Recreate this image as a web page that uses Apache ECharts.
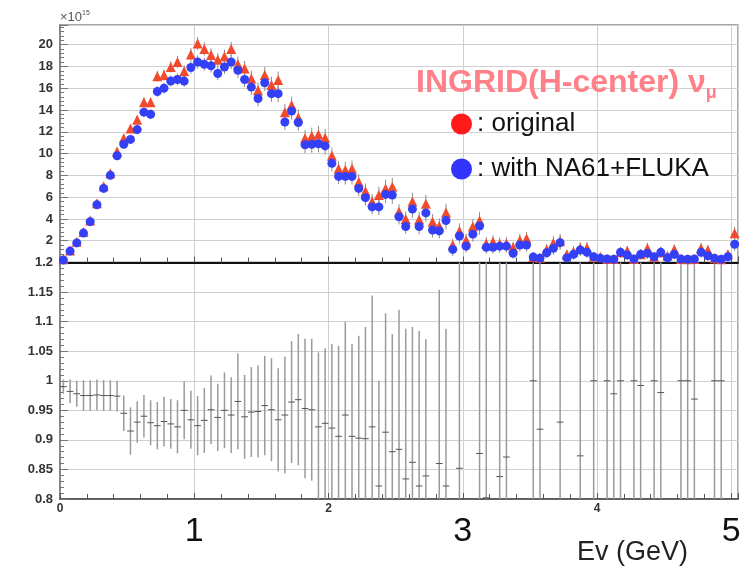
<!DOCTYPE html>
<html>
<head>
<meta charset="utf-8">
<title>INGRID (H-center) numu flux</title>
<script src="https://cdn.jsdelivr.net/npm/echarts@6/dist/echarts.min.js"></script>
<style>
  html, body { margin: 0; padding: 0; background: #ffffff; }
  #chart { width: 749px; height: 574px; }
</style>
</head>
<body>
<div id="chart"></div>
<script>
// Neutrino energy bin centres (GeV), 0.05 GeV wide bins
const energyGeV = [
  0.025, 0.075, 0.125, 0.175, 0.225, 0.275, 0.325, 0.375, 0.425, 0.475,
  0.525, 0.575, 0.625, 0.675, 0.725, 0.775, 0.825, 0.875, 0.925, 0.975,
  1.025, 1.075, 1.125, 1.175, 1.225, 1.275, 1.325, 1.375, 1.425, 1.475,
  1.525, 1.575, 1.625, 1.675, 1.725, 1.775, 1.825, 1.875, 1.925, 1.975,
  2.025, 2.075, 2.125, 2.175, 2.225, 2.275, 2.325, 2.375, 2.425, 2.475,
  2.525, 2.575, 2.625, 2.675, 2.725, 2.775, 2.825, 2.875, 2.925, 2.975,
  3.025, 3.075, 3.125, 3.175, 3.225, 3.275, 3.325, 3.375, 3.425, 3.475,
  3.525, 3.575, 3.625, 3.675, 3.725, 3.775, 3.825, 3.875, 3.925, 3.975,
  4.025, 4.075, 4.125, 4.175, 4.225, 4.275, 4.325, 4.375, 4.425, 4.475,
  4.525, 4.575, 4.625, 4.675, 4.725, 4.775, 4.825, 4.875, 4.925, 4.975,
  5.025
];
const binWidth = 0.05;

// Flux, original tuning (x10^15)
const fluxOriginal = [
  0.30, 1.10, 1.90, 2.80, 3.85, 5.45, 7.00, 8.20, 10.2, 11.4,
  12.3, 13.1, 14.7, 14.7, 17.1, 17.2, 17.95, 18.4, 17.55, 19.1,
  20.1, 19.6, 19.05, 18.6, 18.9, 19.6, 18.2, 17.8, 16.9, 15.8,
  17.2, 16.3, 16.75, 13.8, 14.45, 13.3, 11.4, 11.6, 11.75, 11.45,
  9.80, 8.60, 8.50, 8.60, 7.40, 6.55, 5.60, 6.20, 6.80, 6.95,
  4.65, 4.00, 5.60, 3.95, 5.40, 3.75, 3.35, 4.60, 1.60, 2.90,
  2.05, 3.30, 3.85, 1.75, 1.90, 1.70, 1.75, 1.40, 2.05, 2.20,
  0.50, 0.44, 1.20, 1.80, 1.96, 0.75, 0.98, 1.32, 1.36, 0.53,
  0.53, 0.32, 0.31, 0.93, 1.07, 0.32, 0.76, 1.30, 0.53, 0.95,
  0.62, 1.20, 0.32, 0.30, 0.33, 1.30, 1.15, 0.38, 0.30, 0.75,
  2.68
];

// Flux, with NA61+FLUKA tuning (x10^15)
const fluxNA61 = [
  0.23, 1.05, 1.80, 2.70, 3.75, 5.30, 6.80, 8.00, 9.80, 10.85,
  11.3, 12.2, 13.8, 13.6, 15.7, 16.0, 16.65, 16.8, 16.65, 17.9,
  18.4, 18.2, 18.05, 17.35, 17.95, 18.4, 17.65, 16.8, 16.1, 15.05,
  16.5, 15.5, 15.5, 12.9, 13.9, 12.85, 10.8, 10.85, 10.9, 10.7,
  9.10, 7.90, 7.90, 7.90, 6.80, 5.95, 5.10, 5.10, 6.25, 6.20,
  4.20, 3.30, 4.90, 3.30, 4.55, 2.98, 2.90, 3.85, 1.20, 2.43,
  1.50, 2.60, 3.35, 1.40, 1.40, 1.50, 1.50, 0.85, 1.60, 1.60,
  0.50, 0.40, 0.90, 1.30, 1.82, 0.42, 0.75, 1.15, 0.93, 0.53,
  0.38, 0.32, 0.30, 0.93, 0.69, 0.32, 0.75, 0.84, 0.53, 0.93,
  0.44, 0.75, 0.32, 0.30, 0.32, 0.93, 0.62, 0.38, 0.30, 0.53,
  1.67
];

// Statistical error on the flux (x10^15)
const fluxErr = [
  0.08, 0.12, 0.15, 0.18, 0.20, 0.25, 0.28, 0.30, 0.35, 0.38,
  0.40, 0.42, 0.45, 0.45, 0.50, 0.50, 0.52, 0.55, 0.55, 0.58,
  0.60, 0.60, 0.62, 0.62, 0.65, 0.65, 0.70, 0.70, 0.72, 0.72,
  0.75, 0.75, 0.78, 0.75, 0.78, 0.75, 0.75, 0.78, 0.80, 0.80,
  0.75, 0.72, 0.75, 0.75, 0.72, 0.70, 0.68, 0.75, 0.80, 0.82,
  0.70, 0.68, 0.80, 0.70, 0.80, 0.70, 0.70, 0.80, 0.60, 0.70,
  0.60, 0.70, 0.80, 0.60, 0.60, 0.60, 0.60, 0.50, 0.60, 0.60,
  0.45, 0.40, 0.50, 0.60, 0.65, 0.40, 0.50, 0.55, 0.50, 0.40,
  0.35, 0.30, 0.30, 0.50, 0.45, 0.30, 0.45, 0.50, 0.40, 0.50,
  0.35, 0.45, 0.30, 0.30, 0.30, 0.50, 0.45, 0.35, 0.30, 0.40,
  0.60
];

// Ratio (NA61+FLUKA / original) and its error
const ratio = [
  0.990, 0.982, 0.978, 0.975, 0.975, 0.976, 0.975, 0.975, 0.974, 0.945,
  0.915, 0.930, 0.940, 0.929, 0.924, 0.931, 0.927, 0.922, 0.950, 0.934,
  0.924, 0.933, 0.951, 0.938, 0.950, 0.942, 0.965, 0.939, 0.947, 0.948,
  0.958, 0.951, 0.934, 0.942, 0.964, 0.968, 0.953, 0.951, 0.922, 0.928,
  0.920, 0.906, 0.942, 0.906, 0.903, 0.902, 0.922, 0.822, 0.913, 0.880,
  0.884, 0.834, 0.862, 0.822, 0.839, 0.790, 0.860, 0.822, 0.750, 0.852,
  0.730, 0.780, 0.877, 0.802, 0.730, 0.838, 0.871, 0.600, 0.780, 0.720,
  1.000, 0.918, 0.740, 0.710, 0.930, 0.550, 0.780, 0.873, 0.680, 1.000,
  0.720, 1.000, 0.978, 1.000, 0.640, 1.000, 0.992, 0.650, 1.000, 0.980,
  0.700, 0.620, 1.000, 1.000, 0.969, 0.720, 0.540, 1.000, 1.000, 0.700,
  0.620
];
const ratioErr = [
  0.012, 0.020, 0.022, 0.026, 0.026, 0.026, 0.026, 0.026, 0.026, 0.030,
  0.040, 0.035, 0.036, 0.038, 0.040, 0.042, 0.042, 0.045, 0.049, 0.049,
  0.050, 0.055, 0.058, 0.057, 0.064, 0.064, 0.081, 0.071, 0.076, 0.078,
  0.084, 0.087, 0.087, 0.099, 0.103, 0.111, 0.118, 0.120, 0.126, 0.127,
  0.142, 0.153, 0.158, 0.156, 0.173, 0.189, 0.222, 0.178, 0.201, 0.199,
  0.236, 0.254, 0.229, 0.262, 0.231, 0.250, 0.294, 0.266, 0.300, 0.500,
  0.500, 0.500, 0.500, 0.500, 0.500, 0.500, 0.500, 0.500, 0.500, 0.500,
  0.500, 0.500, 0.500, 0.500, 0.500, 0.500, 0.500, 0.500, 0.500, 0.500,
  0.500, 0.500, 0.500, 0.500, 0.500, 0.500, 0.500, 0.500, 0.500, 0.500,
  0.500, 0.500, 0.500, 0.500, 0.500, 0.500, 0.500, 0.500, 0.500, 0.500,
  0.500
];

const fluxTicks = [2, 4, 6, 8, 10, 12, 14, 16, 18, 20];
const energyTicksSmall = [0, 2, 4];
const energyTicksLarge = [1, 3, 5];

const FONT = "'Liberation Sans', Arial, Helvetica, sans-serif";
const X_MAX = 5.05;
const FLUX_MAX = 21.8;
const RATIO_MIN = 0.8, RATIO_MAX = 1.2;

const chart = echarts.init(document.getElementById('chart'), null, { renderer: 'canvas' });

// vertical error bars on the flux points
function fluxErrorSeries(values) {
  return {
    type: 'custom',
    xAxisIndex: 0, yAxisIndex: 0,
    silent: true, z: 1,
    data: energyGeV.map((e, i) => [e, Math.max(0, values[i] - fluxErr[i]), Math.min(FLUX_MAX, values[i] + fluxErr[i])]),
    encode: { x: 0, y: [1, 2] },
    renderItem(params, api) {
      const x = api.value(0);
      const lo = api.coord([x, api.value(1)]);
      const hi = api.coord([x, api.value(2)]);
      return {
        type: 'line',
        shape: { x1: lo[0], y1: lo[1], x2: hi[0], y2: hi[1] },
        style: { stroke: '#8c8c8c', lineWidth: 1 }
      };
    }
  };
}

const option = {
  animation: false,
  backgroundColor: '#ffffff',
  title: {
    text: '{t|INGRID(H-center) ν}{s|μ}',
    left: 411, top: 59,
    textStyle: {
      rich: {
        t: { fontFamily: FONT, fontSize: 32, color: '#ff8088', lineHeight: 38 },
        s: { fontFamily: FONT, fontSize: 18, color: '#ff8088', lineHeight: 16, verticalAlign: 'bottom' }
      }
    }
  },
  legend: {
    orient: 'vertical',
    left: 446, top: 106,
    icon: 'circle',
    itemWidth: 21, itemHeight: 21, itemGap: 19,
    selectedMode: false,
    formatter: name => ': ' + name,
    textStyle: { fontFamily: FONT, fontSize: 26, color: '#111', lineHeight: 26 },
    data: [
      { name: 'original', itemStyle: { color: '#ff1a1a' } },
      { name: 'with NA61+FLUKA', itemStyle: { color: '#3333ff' } }
    ]
  },
  grid: [
    { left: 60, right: 11, top: 25, height: 237.5, show: true, borderColor: '#8a8a8a', borderWidth: 1.5 },
    { left: 60, right: 11, top: 262.5, height: 236.5, show: true, borderColor: '#8a8a8a', borderWidth: 1.5 }
  ],
  xAxis: [
    {
      gridIndex: 0, type: 'value', min: 0, max: X_MAX, interval: 1,
      axisLine: { show: true, onZero: false, lineStyle: { color: '#111', width: 2 } },
      axisTick: { show: true, inside: true, length: 6, lineStyle: { color: '#555' } },
      minorTick: { show: true, splitNumber: 5, length: 5, lineStyle: { color: '#555' } },
      axisLabel: { show: false },
      splitLine: { show: true, lineStyle: { color: '#cfcfcf', width: 1 } }
    },
    {
      gridIndex: 1, type: 'value', min: 0, max: X_MAX, interval: 1,
      axisLine: { show: true, onZero: false, lineStyle: { color: '#444', width: 1.5 } },
      axisTick: { show: true, inside: true, length: 6, lineStyle: { color: '#555' } },
      minorTick: { show: true, splitNumber: 5, length: 5, lineStyle: { color: '#555' } },
      axisLabel: {
        fontFamily: FONT, fontSize: 12, fontWeight: 'bold', color: '#333', margin: 4,
        formatter: v => energyTicksSmall.includes(v) ? String(v) : ''
      },
      splitLine: { show: true, lineStyle: { color: '#cfcfcf', width: 1 } }
    },
    {
      gridIndex: 1, type: 'value', min: 0, max: X_MAX, interval: 1,
      position: 'bottom', offset: 0,
      axisLine: { show: false }, axisTick: { show: false }, splitLine: { show: false },
      axisLabel: {
        fontFamily: FONT, fontSize: 34, color: '#111', margin: 16,
        formatter: v => energyTicksLarge.includes(v) ? String(v) : ''
      }
    }
  ],
  yAxis: [
    {
      gridIndex: 0, type: 'value', min: 0, max: FLUX_MAX, interval: 2,
      name: '{m|×10}{e|15}', nameLocation: 'end', nameGap: 1,
      nameTextStyle: {
        align: 'left', verticalAlign: 'bottom',
        rich: {
          m: { fontFamily: FONT, fontSize: 13, color: '#555', lineHeight: 14 },
          e: { fontFamily: FONT, fontSize: 7, color: '#555', verticalAlign: 'top', lineHeight: 8 }
        }
      },
      axisLine: { show: true, lineStyle: { color: '#777', width: 1.5 } },
      axisTick: { show: true, inside: true, length: 8, lineStyle: { color: '#777' } },
      minorTick: { show: true, splitNumber: 5, length: 4, lineStyle: { color: '#777' } },
      axisLabel: {
        fontFamily: FONT, fontSize: 13, fontWeight: 'bold', color: '#333', margin: 7,
        formatter: v => fluxTicks.includes(Math.round(v * 1000) / 1000) ? String(Math.round(v)) : ''
      },
      splitLine: { show: true, lineStyle: { color: '#cfcfcf', width: 1 } }
    },
    {
      gridIndex: 1, type: 'value', min: RATIO_MIN, max: RATIO_MAX, interval: 0.05,
      axisLine: { show: true, lineStyle: { color: '#777', width: 1.5 } },
      axisTick: { show: true, inside: true, length: 8, lineStyle: { color: '#777' } },
      minorTick: { show: true, splitNumber: 5, length: 4, lineStyle: { color: '#777' } },
      axisLabel: {
        fontFamily: FONT, fontSize: 13, fontWeight: 'bold', color: '#333', margin: 7,
        formatter: v => String(Math.round(v * 100) / 100)
      },
      splitLine: { show: true, lineStyle: { color: '#cfcfcf', width: 1 } }
    }
  ],
  series: [
    fluxErrorSeries(fluxOriginal),
    fluxErrorSeries(fluxNA61),
    {
      name: 'original', type: 'scatter', xAxisIndex: 0, yAxisIndex: 0, z: 3,
      symbol: 'triangle', symbolSize: 10,
      itemStyle: { color: '#f24a2c', opacity: 1 },
      data: energyGeV.map((e, i) => [e, fluxOriginal[i]])
    },
    {
      name: 'with NA61+FLUKA', type: 'scatter', xAxisIndex: 0, yAxisIndex: 0, z: 4,
      symbol: 'circle', symbolSize: 9,
      itemStyle: { color: '#3340f5', opacity: 1 },
      data: energyGeV.map((e, i) => [e, fluxNA61[i]])
    },
    {
      // ratio points: vertical error bar plus a bin-wide marker; points outside the frame are not drawn
      type: 'custom', xAxisIndex: 1, yAxisIndex: 1, silent: true, z: 2,
      data: energyGeV.map((e, i) => [e, ratio[i], ratioErr[i]]),
      encode: { x: 0, y: 1 },
      renderItem(params, api) {
        const x = api.value(0);
        const r = api.value(1);
        const err = api.value(2);
        if (r < RATIO_MIN || r > RATIO_MAX) return null;
        const lo = api.coord([x, Math.max(RATIO_MIN, r - err)]);
        const hi = api.coord([x, Math.min(RATIO_MAX, r + err)]);
        const left = api.coord([x - binWidth / 2, r]);
        const right = api.coord([x + binWidth / 2, r]);
        return {
          type: 'group',
          children: [
            { type: 'line', shape: { x1: lo[0], y1: lo[1], x2: hi[0], y2: hi[1] },
              style: { stroke: '#9a9a9a', lineWidth: 1.5 } },
            { type: 'line', shape: { x1: left[0], y1: left[1], x2: right[0], y2: right[1] },
              style: { stroke: '#555', lineWidth: 1 } }
          ]
        };
      }
    }
  ],
  graphic: [
    {
      type: 'text', left: 577, top: 539,
      style: { text: 'Ev (GeV)', font: "27px 'Liberation Sans', Arial, sans-serif", fill: '#222' }
    }
  ]
};

chart.setOption(option);
</script>
</body>
</html>
